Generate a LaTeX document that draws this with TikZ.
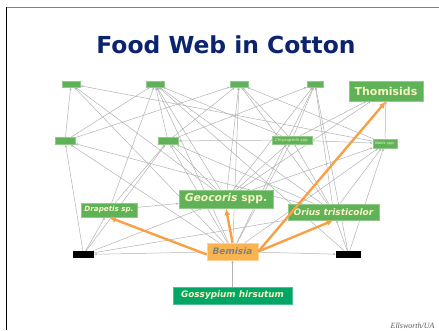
\documentclass[tikz,border=0pt]{standalone}
\usepackage{fontspec}
\setmainfont{DejaVu Sans}
\newfontfamily\creditfont{Liberation Serif}
\usepackage{xcolor}
\usetikzlibrary{
    positioning,
    arrows.meta,
    backgrounds,
}
\definecolor{titlenavy}{RGB}{12,36,110}
\definecolor{webgreen}{RGB}{96,178,88}
\definecolor{hostgreen}{RGB}{0,166,102}
\definecolor{palecream}{RGB}{246,244,196}
\definecolor{pestorange}{RGB}{249,180,82}
\definecolor{attackorange}{RGB}{247,160,70}
\definecolor{webgray}{RGB}{178,178,178}
\tikzset{
    % Box styles
    species/.style={rectangle, fill=webgreen, draw=webgreen!70!white, line width=0.6bp,
                    inner sep=0pt, text=palecream, font=\bfseries},
    small species/.style={species, minimum width=18bp, minimum height=6bp},
    parasitoid/.style={rectangle, fill=black, inner sep=0pt, minimum width=21bp, minimum height=7bp},
    pest/.style={rectangle, fill=pestorange, draw=pestorange!60!white, line width=0.6bp,
                 inner sep=0pt, text=gray, minimum width=51bp, minimum height=17bp},
    host/.style={rectangle, fill=hostgreen, draw=hostgreen!70!white, line width=0.6bp,
                 inner sep=0pt, text=palecream, minimum width=119bp, minimum height=17bp},
    % Arrow styles
    web/.style={-{Stealth[length=2.8bp,width=2.2bp]}, line width=0.5bp, draw=webgray},
    attack/.style={-{Latex[length=7bp,width=6bp]}, line width=2.4bp, draw=attackorange},
    % Text styles
    title/.style={font=\fontsize{23.5}{28}\selectfont\bfseries, text=titlenavy},
    credit/.style={font=\creditfont\itshape\fontsize{8}{9}\selectfont, text=black!65},
}

\begin{document}
\begin{tikzpicture}[x=1bp, y=-1bp]
    \useasboundingbox (0,0) rectangle (439,330);

    % Slide frame
    \draw[gray, line width=1.2bp] (6,7.5) -- (439,7.5);
    \draw[black, line width=1bp] (6.5,7) -- (6.5,330);

    % Title
    \node[title, anchor=base] (title) at (226,53) {Food Web in Cotton};

    % Top row
    \node[small species] (t1) at (71,84) {};
    \node[small species] (t2) at (155,84) {};
    \node[small species] (t3) at (239,84) {};
    \node[small species, minimum width=16bp] (t4) at (315,84) {};
    \node[species, minimum width=74bp, minimum height=20bp,
          font=\fontsize{11}{13}\selectfont\bfseries] (thom) at (386,91) {Thomisids};

    % Middle row
    \node[small species, minimum width=20bp, minimum height=7bp] (m1) at (65,141) {};
    \node[small species, minimum width=20bp, minimum height=7bp] (m2) at (168,141) {};
    \node[species, minimum width=40bp, minimum height=8bp,
          font=\fontsize{4}{5}\selectfont\itshape] (chry) at (292,140) {Chrysoperla spp.};
    \node[species, minimum width=24bp, minimum height=9bp,
          font=\fontsize{3.8}{5}\selectfont\itshape] (nabis) at (385,143.5) {Nabis spp.};

    % Predators
    \node[species, minimum width=94bp, minimum height=18bp,
          font=\fontsize{10.8}{13}\selectfont\bfseries] (geo) at (226,199) {\textit{Geocoris} spp.};
    \node[species, minimum width=56bp, minimum height=14bp,
          font=\fontsize{7.2}{9}\selectfont\bfseries\itshape] (drap) at (109,210) {Drapetis sp.};
    \node[species, minimum width=91bp, minimum height=16bp,
          font=\fontsize{9}{11}\selectfont\bfseries\itshape] (orius) at (333.5,212) {Orius tristicolor};

    % Pest, parasitoids, host plant
    \node[pest, font=\fontsize{9}{11}\selectfont\bfseries\itshape] (bem) at (232.5,251.5) {Bemisia};
    \node[parasitoid] (bl) at (83.5,254.5) {};
    \node[parasitoid, minimum width=25bp] (br) at (348.5,254.5) {};
    \node[host, font=\fontsize{8.9}{11}\selectfont\bfseries\itshape] (goss) at (232.5,295.5) {Gossypium hirsutum};

    % Credit
    \node[credit, anchor=base east] (credit) at (438,328) {Ellsworth/UA};

    % Feeding links
    \begin{scope}[on background layer]
    \draw[web] (m1) -- (t1);
    \draw[web] (geo) -- (t1);
    \draw[web] (bem) -- (t1);
    \draw[web] (nabis) -- (t1);
    \draw[web] (m1) -- (t2);
    \draw[web] (drap) -- (t2);
    \draw[web] (m2) -- (t2);
    \draw[web] (geo) -- (t2);
    \draw[web] (bem) -- (t2);
    \draw[web] (orius) -- (t2);
    \draw[web] (br) -- (t2);
    \draw[web] (chry) -- (t2);
    \draw[web] (m1) -- (t3);
    \draw[web] (m2) -- (t3);
    \draw[web] (geo) -- (t3);
    \draw[web] (bem) -- (t3);
    \draw[web] (chry) -- (t3);
    \draw[web] (nabis) -- (t3);
    \draw[web] (orius) -- (t3);
    \draw[web] (m2) -- (t4);
    \draw[web] (chry) -- (t4);
    \draw[web] (geo) -- (t4);
    \draw[web] (orius) -- (t4);
    \draw[web] (bem) -- (t4);
    \draw[web] (br) -- (t4);
    \draw[web] (bl) -- (m1);
    \draw[web] (bem) -- (m1);
    \draw[web] (orius) -- (m1);
    \draw[web] (chry) -- (m2);
    \draw[web] (bl) -- (m2);
    \draw[web] (drap) -- (m2);
    \draw[web] (geo) -- (m2);
    \draw[web] (bem) -- (m2);
    \draw[web] (orius) -- (m2);
    \draw[web] (geo) -- (chry);
    \draw[web] (bem) -- (chry);
    \draw[web] (orius) -- (chry);
    \draw[web] (chry) -- (nabis);
    \draw[web] (geo) -- (nabis);
    \draw[web] (orius) -- (nabis);
    \draw[web] (bem) -- (nabis);
    \draw[web] (br) -- (nabis);
    \draw[web] (nabis) -- (thom);
    \draw[web] (chry) -- (thom);
    \draw[web] (geo) -- (thom);
    \draw[web] (drap) -- (geo);
    \draw[web] (bl) -- (geo);
    \draw[web] (bl) -- (orius);
    \draw[web] (bl) -- (drap);
    \draw[web] (br) -- (orius);
    \draw[web] (bem) -- (bl);
    \draw[web] (bem) -- (br);
    \draw[web] (goss) -- (bem);
    \end{scope}

    % Bemisia predators
    \draw[attack] ([yshift=-3bp]bem.west) -- (drap.south);
    \draw[attack] (bem.north) -- (geo.south);
    \draw[attack] (bem.east) -- (orius.south);
    \draw[attack] (bem.east) -- (thom.south);
\end{tikzpicture}
\end{document}
